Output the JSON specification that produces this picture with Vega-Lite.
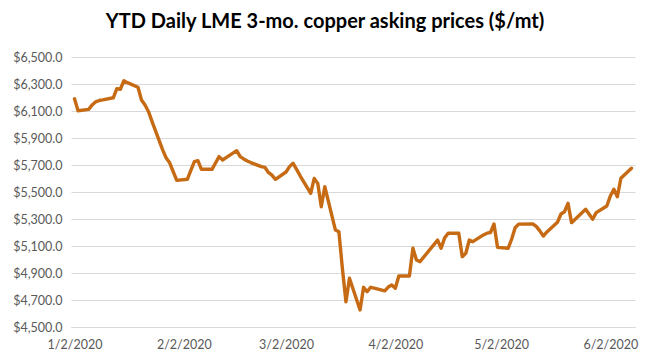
{
  "$schema": "https://vega.github.io/schema/vega-lite/v6.json",
  "width": 564,
  "height": 270,
  "autosize": "none",
  "padding": {"left": 71, "right": 15, "top": 57, "bottom": 37},
  "background": "#ffffff",
  "title": {
    "text": "YTD Daily LME 3-mo. copper asking prices ($/mt)",
    "font": "Lato",
    "fontSize": 20,
    "fontWeight": "bold",
    "color": "#000000",
    "anchor": "middle",
    "dx": -28,
    "offset": 19
  },
  "data": {
    "values": [
      {"date": "2020-01-02", "price": 6190},
      {"date": "2020-01-03", "price": 6102},
      {"date": "2020-01-06", "price": 6112},
      {"date": "2020-01-07", "price": 6145},
      {"date": "2020-01-08", "price": 6168},
      {"date": "2020-01-09", "price": 6178},
      {"date": "2020-01-10", "price": 6182},
      {"date": "2020-01-13", "price": 6198},
      {"date": "2020-01-14", "price": 6266},
      {"date": "2020-01-15", "price": 6261},
      {"date": "2020-01-16", "price": 6324},
      {"date": "2020-01-17", "price": 6310},
      {"date": "2020-01-20", "price": 6276},
      {"date": "2020-01-21", "price": 6182},
      {"date": "2020-01-22", "price": 6144},
      {"date": "2020-01-23", "price": 6095},
      {"date": "2020-01-24", "price": 6021},
      {"date": "2020-01-27", "price": 5812},
      {"date": "2020-01-28", "price": 5752},
      {"date": "2020-01-29", "price": 5716},
      {"date": "2020-01-30", "price": 5650},
      {"date": "2020-01-31", "price": 5586},
      {"date": "2020-02-03", "price": 5594},
      {"date": "2020-02-04", "price": 5660},
      {"date": "2020-02-05", "price": 5725},
      {"date": "2020-02-06", "price": 5732},
      {"date": "2020-02-07", "price": 5668},
      {"date": "2020-02-10", "price": 5668},
      {"date": "2020-02-11", "price": 5715},
      {"date": "2020-02-12", "price": 5762},
      {"date": "2020-02-13", "price": 5737},
      {"date": "2020-02-14", "price": 5755},
      {"date": "2020-02-17", "price": 5806},
      {"date": "2020-02-18", "price": 5762},
      {"date": "2020-02-19", "price": 5745},
      {"date": "2020-02-20", "price": 5730},
      {"date": "2020-02-21", "price": 5718},
      {"date": "2020-02-24", "price": 5688},
      {"date": "2020-02-25", "price": 5683},
      {"date": "2020-02-26", "price": 5645},
      {"date": "2020-02-27", "price": 5625},
      {"date": "2020-02-28", "price": 5594},
      {"date": "2020-03-02", "price": 5648},
      {"date": "2020-03-03", "price": 5688},
      {"date": "2020-03-04", "price": 5713},
      {"date": "2020-03-05", "price": 5668},
      {"date": "2020-03-06", "price": 5620},
      {"date": "2020-03-09", "price": 5490},
      {"date": "2020-03-10", "price": 5601},
      {"date": "2020-03-11", "price": 5564},
      {"date": "2020-03-12", "price": 5391},
      {"date": "2020-03-13", "price": 5539},
      {"date": "2020-03-16", "price": 5219},
      {"date": "2020-03-17", "price": 5206},
      {"date": "2020-03-18", "price": 4930},
      {"date": "2020-03-19", "price": 4687},
      {"date": "2020-03-20", "price": 4861},
      {"date": "2020-03-23", "price": 4626},
      {"date": "2020-03-24", "price": 4794},
      {"date": "2020-03-25", "price": 4761},
      {"date": "2020-03-26", "price": 4794},
      {"date": "2020-03-27", "price": 4788},
      {"date": "2020-03-30", "price": 4768},
      {"date": "2020-03-31", "price": 4796},
      {"date": "2020-04-01", "price": 4811},
      {"date": "2020-04-02", "price": 4787},
      {"date": "2020-04-03", "price": 4878},
      {"date": "2020-04-06", "price": 4878},
      {"date": "2020-04-07", "price": 5083},
      {"date": "2020-04-08", "price": 4996},
      {"date": "2020-04-09", "price": 4984},
      {"date": "2020-04-14", "price": 5144},
      {"date": "2020-04-15", "price": 5083},
      {"date": "2020-04-16", "price": 5160},
      {"date": "2020-04-17", "price": 5194},
      {"date": "2020-04-20", "price": 5194},
      {"date": "2020-04-21", "price": 5021},
      {"date": "2020-04-22", "price": 5046},
      {"date": "2020-04-23", "price": 5144},
      {"date": "2020-04-24", "price": 5132},
      {"date": "2020-04-27", "price": 5182},
      {"date": "2020-04-28", "price": 5195},
      {"date": "2020-04-29", "price": 5200},
      {"date": "2020-04-30", "price": 5263},
      {"date": "2020-05-01", "price": 5090},
      {"date": "2020-05-04", "price": 5083},
      {"date": "2020-05-05", "price": 5150},
      {"date": "2020-05-06", "price": 5235},
      {"date": "2020-05-07", "price": 5262},
      {"date": "2020-05-11", "price": 5263},
      {"date": "2020-05-12", "price": 5245},
      {"date": "2020-05-13", "price": 5212},
      {"date": "2020-05-14", "price": 5174},
      {"date": "2020-05-15", "price": 5204},
      {"date": "2020-05-18", "price": 5276},
      {"date": "2020-05-19", "price": 5337},
      {"date": "2020-05-20", "price": 5354},
      {"date": "2020-05-21", "price": 5416},
      {"date": "2020-05-22", "price": 5273},
      {"date": "2020-05-26", "price": 5372},
      {"date": "2020-05-27", "price": 5335},
      {"date": "2020-05-28", "price": 5298},
      {"date": "2020-05-29", "price": 5347},
      {"date": "2020-06-01", "price": 5396},
      {"date": "2020-06-02", "price": 5470},
      {"date": "2020-06-03", "price": 5520},
      {"date": "2020-06-04", "price": 5465},
      {"date": "2020-06-05", "price": 5602},
      {"date": "2020-06-08", "price": 5676}
    ]
  },
  "mark": {"type": "line", "color": "#C66A14", "strokeWidth": 3.4, "strokeJoin": "round", "strokeCap": "round"},
  "encoding": {
    "x": {
      "field": "date",
      "type": "temporal",
      "scale": {
        "type": "utc",
        "domain": [
          {"year": 2020, "month": 1, "date": 1, "utc": true},
          {"year": 2020, "month": 6, "date": 9, "utc": true}
        ]
      },
      "axis": {
        "title": null,
        "values": [
          {"year": 2020, "month": 1, "date": 2, "utc": true},
          {"year": 2020, "month": 2, "date": 2, "utc": true},
          {"year": 2020, "month": 3, "date": 2, "utc": true},
          {"year": 2020, "month": 4, "date": 2, "utc": true},
          {"year": 2020, "month": 5, "date": 2, "utc": true},
          {"year": 2020, "month": 6, "date": 2, "utc": true}
        ],
        "format": "%-m/%-d/%Y",
        "grid": false,
        "ticks": false,
        "domain": true,
        "domainColor": "#d9d9d9",
        "labelFont": "Lato",
        "labelFontSize": 12.5,
        "labelColor": "#595959",
        "labelPadding": 11,
        "labelFlush": false
      }
    },
    "y": {
      "field": "price",
      "type": "quantitative",
      "scale": {"domain": [4500, 6500], "nice": false, "zero": false},
      "axis": {
        "title": null,
        "values": [4500, 4700, 4900, 5100, 5300, 5500, 5700, 5900, 6100, 6300, 6500],
        "format": "$,.1f",
        "grid": true,
        "gridColor": "#d9d9d9",
        "gridWidth": 1,
        "ticks": false,
        "domain": false,
        "labelFont": "Lato",
        "labelFontSize": 12.5,
        "labelColor": "#595959",
        "labelPadding": 9
      }
    }
  },
  "config": {"view": {"stroke": null}}
}
